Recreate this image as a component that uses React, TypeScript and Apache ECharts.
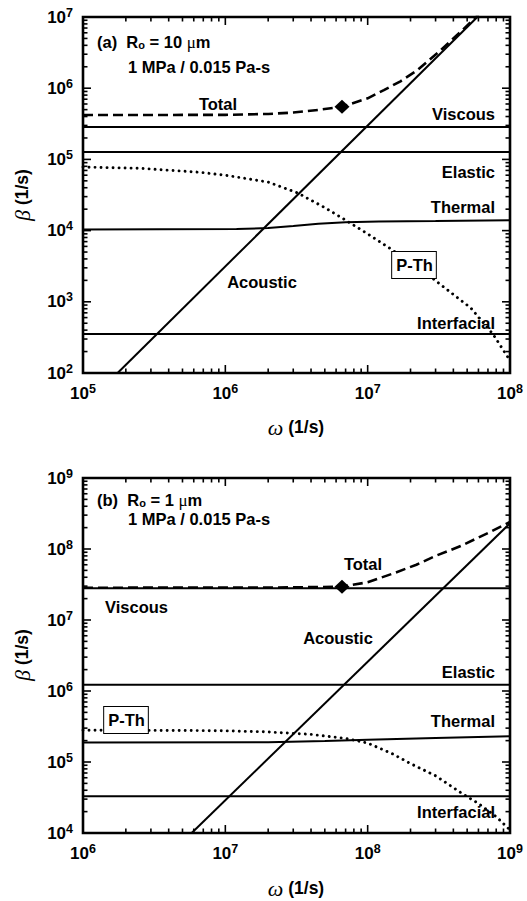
import React, { useEffect, useRef } from 'react';
import * as echarts from 'echarts';

const SANS = "'Liberation Sans', Arial, Helvetica, sans-serif";
const SERIF = "'Liberation Serif', 'Times New Roman', serif";

// ---------- Panel (a): R0 = 10 um ----------
const aRangeW = [1e5, 1e8];
const aRangeB = [1e2, 1e7];
const aViscousW = [1e5, 1e8];
const aViscousB = [2.85e5, 2.85e5];
const aElasticW = [1e5, 1e8];
const aElasticB = [1.27e5, 1.27e5];
const aInterfW = [1e5, 1e8];
const aInterfB = [353, 353];
const aThermalW = [1e5, 1.2e6, 2e6, 3e6, 4.5e6, 7e6, 1.2e7, 3e7, 1e8];
const aThermalB = [1.04e4, 1.05e4, 1.09e4, 1.16e4, 1.25e4, 1.31e4, 1.34e4, 1.36e4, 1.4e4];
const aAcousticW = [1.75e5, 5.9e7];
const aAcousticB = [1e2, 1e7];
const aPThW = [1e5, 2.5e5, 6.6e5, 1e6, 2e6, 3.2e6, 5e6, 7e6, 1e7, 1.5e7, 2.8e7, 5.3e7, 7.6e7, 1e8];
const aPThB = [7.8e4, 7.5e4, 6.6e4, 6.0e4, 4.8e4, 3.4e4, 2.1e4, 1.4e4, 9e3, 5.3e3, 2.2e3, 820, 350, 150];
const aTotalW = [1e5, 1e6, 2e6, 3e6, 4.5e6, 6.6e6, 1e7, 1.3e7, 1.7e7, 2.2e7, 3.2e7, 4.5e7, 6e7];
const aTotalB = [4.2e5, 4.22e5, 4.35e5, 4.55e5, 4.95e5, 5.5e5, 7.2e5, 9.4e5, 1.25e6, 1.75e6, 3.3e6, 6.2e6, 1.08e7];
const aMarkW = [6.6e6];
const aMarkB = [5.5e5];

// ---------- Panel (b): R0 = 1 um ----------
const bRangeW = [1e6, 1e9];
const bRangeB = [1e4, 1e9];
const bViscousW = [1e6, 1e9];
const bViscousB = [2.8e7, 2.8e7];
const bElasticW = [1e6, 1e9];
const bElasticB = [1.22e6, 1.22e6];
const bInterfW = [1e6, 1e9];
const bInterfB = [3.3e4, 3.3e4];
const bThermalW = [1e6, 2e7, 5e7, 1e8, 3e8, 1e9];
const bThermalB = [1.88e5, 1.9e5, 1.97e5, 2.05e5, 2.17e5, 2.3e5];
const bAcousticW = [5.8e6, 1e9];
const bAcousticB = [1e4, 2.3e8];
const bPThW = [1e6, 5e6, 1e7, 2e7, 4e7, 7e7, 1e8, 1.5e8, 2e8, 3e8, 4.7e8, 6e8, 8e8, 1e9];
const bPThB = [2.8e5, 2.78e5, 2.75e5, 2.65e5, 2.45e5, 2.15e5, 1.85e5, 1.3e5, 9.5e4, 6.4e4, 3.5e4, 2.6e4, 1.7e4, 1.1e4];
const bTotalW = [1e6, 1e7, 3e7, 6.6e7, 1e8, 1.5e8, 2.2e8, 3e8, 4.5e8, 7e8, 1e9];
const bTotalB = [2.85e7, 2.86e7, 2.88e7, 2.95e7, 3.4e7, 4.5e7, 6e7, 8e7, 1.1e8, 1.68e8, 2.4e8];
const bMarkW = [6.6e7];
const bMarkB = [2.95e7];

const TICK_MULTS = [1, 2, 3, 4, 5, 6, 7, 8, 9];
const MAJOR_LEN = 8;
const MINOR_LEN = 4.5;

const zip = (xs: number[], ys: number[]) => xs.map((x, i) => [x, ys[i]]);

function lineSeries(g: number, xs: number[], ys: number[], kind: 'solid' | 'dash' | 'dot') {
  const ls: any = { color: '#000', width: 2 };
  if (kind === 'dash') { ls.type = [10, 5]; ls.width = 2.6; }
  if (kind === 'dot') { ls.type = [0.01, 6]; ls.width = 2.9; ls.cap = 'round'; }
  return {
    type: 'line', xAxisIndex: g, yAxisIndex: g, data: zip(xs, ys),
    showSymbol: false, symbol: 'none', smooth: false, lineStyle: ls, silent: true, z: 3,
  };
}

function markSeries(g: number, xs: number[], ys: number[]) {
  return {
    type: 'scatter', xAxisIndex: g, yAxisIndex: g, data: zip(xs, ys),
    symbol: 'diamond', symbolSize: [15, 14], itemStyle: { color: '#000', opacity: 1 }, silent: true, z: 6,
  };
}

function tickSeries(g: number, xr: number[], yr: number[]) {
  return {
    type: 'custom', coordinateSystem: 'cartesian2d', xAxisIndex: g, yAxisIndex: g,
    data: [[xr[0], yr[0]]], silent: true, z: 8, clip: false,
    renderItem: (_p: any, api: any) => {
      const children: any[] = [];
      const [L, B] = api.coord([xr[0], yr[0]]);
      const [R, T] = api.coord([xr[1], yr[1]]);
      const st = { stroke: '#000', lineWidth: 1.6 };
      const add = (x1: number, y1: number, x2: number, y2: number) =>
        children.push({ type: 'line', shape: { x1, y1, x2, y2 }, style: st });
      const ex0 = Math.round(Math.log10(xr[0])), ex1 = Math.round(Math.log10(xr[1]));
      for (let e = ex0; e <= ex1; e++) {
        for (const m of TICK_MULTS) {
          const v = m * Math.pow(10, e);
          if (v > xr[1] * 1.0001) break;
          const len = m === 1 ? MAJOR_LEN : MINOR_LEN;
          const px = api.coord([v, yr[0]])[0];
          add(px, B, px, B - len);
          add(px, T, px, T + len);
        }
      }
      const ey0 = Math.round(Math.log10(yr[0])), ey1 = Math.round(Math.log10(yr[1]));
      for (let e = ey0; e <= ey1; e++) {
        for (const m of TICK_MULTS) {
          const v = m * Math.pow(10, e);
          if (v > yr[1] * 1.0001) break;
          const len = m === 1 ? MAJOR_LEN : MINOR_LEN;
          const py = api.coord([xr[0], v])[1];
          add(L, py, L + len, py);
          add(R, py, R - len, py);
        }
      }
      return { type: 'group', children };
    },
  };
}

const powLabel = (v: number) => `{b|10}{s|${Math.round(Math.log10(v))}}`;
const labelRich = {
  b: { fontFamily: SANS, fontWeight: 'bold', fontSize: 17, lineHeight: 22, color: '#000' },
  s: { fontFamily: SANS, fontWeight: 'bold', fontSize: 12.5, lineHeight: 13, color: '#000', verticalAlign: 'top' },
};

function xAxis(g: number, r: number[]) {
  return {
    type: 'log', logBase: 10, gridIndex: g, min: r[0], max: r[1],
    axisLine: { show: false }, axisTick: { show: false }, splitLine: { show: false },
    axisLabel: { formatter: powLabel, rich: labelRich, margin: 9 },
  };
}
function yAxis(g: number, r: number[]) {
  return {
    type: 'log', logBase: 10, gridIndex: g, min: r[0], max: r[1],
    axisLine: { show: false }, axisTick: { show: false }, splitLine: { show: false },
    axisLabel: { formatter: powLabel, rich: labelRich, margin: 10 },
  };
}

const txtBase = { fontFamily: SANS, fontWeight: 'bold', fontSize: 16.5, lineHeight: 16, fill: '#000' };
function label(text: string, x: number, y: number, align: string) {
  return { type: 'text', x, y, z: 50, style: { ...txtBase, text, align, verticalAlign: 'middle' } };
}
function boxLabel(text: string, x: number, y: number) {
  return {
    type: 'text', x, y, z: 50,
    style: {
      ...txtBase, text, align: 'center', verticalAlign: 'middle',
      backgroundColor: '#fff', borderColor: '#000', borderWidth: 1, padding: [5, 3, 4, 4], lineHeight: 17,
    },
  };
}
const titleRich = {
  t: { fontFamily: SANS, fontWeight: 'bold', fontSize: 16.5, lineHeight: 17, color: '#000' },
  o: { fontFamily: SANS, fontWeight: 'bold', fontSize: 11, lineHeight: 6, color: '#000', verticalAlign: 'bottom' },
  m: { fontFamily: SERIF, fontSize: 17, lineHeight: 17, color: '#000' },
};
function panelTitle(tag: string, r: string, x: number, y: number) {
  return {
    type: 'text', x, y, z: 50,
    style: {
      text: `{t|${tag}  R}{o|o}{t| = ${r} }{m|μ}{t|m}`, rich: titleRich, align: 'left', verticalAlign: 'middle',
    },
  };
}
const axRich = {
  g: { fontFamily: SERIF, fontStyle: 'italic', fontSize: 22, lineHeight: 24, color: '#000' },
  t: { fontFamily: SANS, fontWeight: 'bold', fontSize: 17.5, lineHeight: 24, color: '#000' },
};
function axisTitle(sym: string, x: number, y: number, rot: number) {
  return {
    type: 'text', x, y, rotation: rot, z: 50,
    style: { text: `{g|${sym}}{t| (1/s)}`, rich: axRich, align: 'center', verticalAlign: 'middle' },
  };
}

const option: any = {
  animation: false,
  backgroundColor: '#fff',
  grid: [
    { left: 83, top: 17, width: 427, height: 356, show: true, borderColor: '#000', borderWidth: 2.6, backgroundColor: 'transparent' },
    { left: 83, top: 478, width: 427, height: 355, show: true, borderColor: '#000', borderWidth: 2.6, backgroundColor: 'transparent' },
  ],
  xAxis: [xAxis(0, aRangeW), xAxis(1, bRangeW)],
  yAxis: [yAxis(0, aRangeB), yAxis(1, bRangeB)],
  series: [
    lineSeries(0, aViscousW, aViscousB, 'solid'),
    lineSeries(0, aElasticW, aElasticB, 'solid'),
    lineSeries(0, aInterfW, aInterfB, 'solid'),
    lineSeries(0, aThermalW, aThermalB, 'solid'),
    lineSeries(0, aAcousticW, aAcousticB, 'solid'),
    lineSeries(0, aPThW, aPThB, 'dot'),
    lineSeries(0, aTotalW, aTotalB, 'dash'),
    markSeries(0, aMarkW, aMarkB),
    tickSeries(0, aRangeW, aRangeB),
    lineSeries(1, bViscousW, bViscousB, 'solid'),
    lineSeries(1, bElasticW, bElasticB, 'solid'),
    lineSeries(1, bInterfW, bInterfB, 'solid'),
    lineSeries(1, bThermalW, bThermalB, 'solid'),
    lineSeries(1, bAcousticW, bAcousticB, 'solid'),
    lineSeries(1, bPThW, bPThB, 'dot'),
    lineSeries(1, bTotalW, bTotalB, 'dash'),
    markSeries(1, bMarkW, bMarkB),
    tickSeries(1, bRangeW, bRangeB),
  ],
  graphic: [
    panelTitle('(a)', '10', 97, 42),
    label('1 MPa / 0.015 Pa-s', 128, 67, 'left'),
    label('Total', 218, 104, 'center'),
    label('Viscous', 495, 114, 'right'),
    label('Elastic', 495, 172, 'right'),
    label('Thermal', 495, 207, 'right'),
    label('Acoustic', 262, 282, 'center'),
    boxLabel('P-Th', 414, 265),
    label('Interfacial', 495, 323, 'right'),
    axisTitle('β', 22, 195, Math.PI / 2),
    axisTitle('ω', 296, 427, 0),

    panelTitle('(b)', '1', 97, 500),
    label('1 MPa / 0.015 Pa-s', 128, 519, 'left'),
    label('Total', 363, 564, 'center'),
    label('Viscous', 105, 607, 'left'),
    label('Acoustic', 338, 638, 'center'),
    label('Elastic', 495, 672, 'right'),
    boxLabel('P-Th', 126, 720),
    label('Thermal', 495, 721, 'right'),
    label('Interfacial', 495, 812, 'right'),
    axisTitle('β', 22, 655, Math.PI / 2),
    axisTitle('ω', 296, 888, 0),
  ],
};

export default function App() {
  const ref = useRef<HTMLDivElement>(null);
  useEffect(() => {
    if (!ref.current) return;
    const chart = echarts.init(ref.current, null, { renderer: 'svg' });
    chart.setOption(option);
    return () => chart.dispose();
  }, []);
  return (
    <div
      ref={ref}
      style={{ position: 'absolute', left: 0, top: 0, width: 527, height: 901, background: '#fff' }}
    />
  );
}
